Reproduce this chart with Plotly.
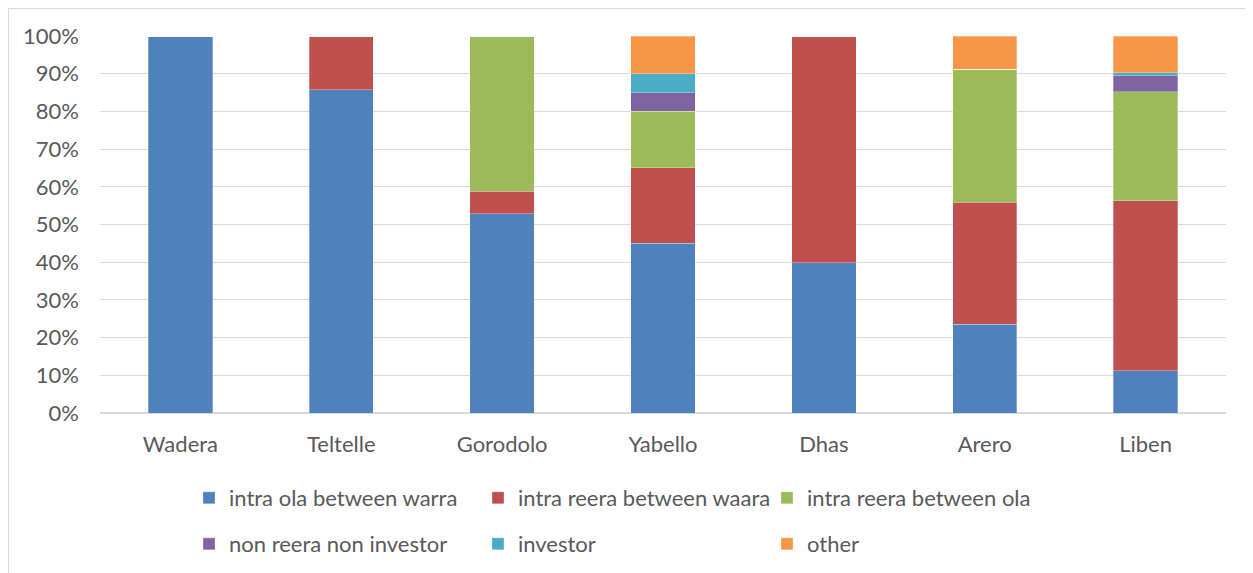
import plotly.graph_objects as go

categories = ["Wadera", "Teltelle", "Gorodolo", "Yabello", "Dhas", "Arero", "Liben"]

intra_ola_warra = [100.0, 85.7, 52.9, 45.0, 39.8, 23.5, 11.2]
intra_reera_waara = [0.0, 14.3, 5.9, 20.0, 60.2, 32.4, 45.1]
intra_reera_ola = [0.0, 0.0, 41.2, 15.0, 0.0, 35.3, 28.9]
non_reera_non_investor = [0.0, 0.0, 0.0, 5.0, 0.0, 0.0, 4.3]
investor = [0.0, 0.0, 0.0, 5.0, 0.0, 0.0, 0.7]
other = [0.0, 0.0, 0.0, 10.0, 0.0, 8.8, 9.8]

# first three go in the top legend row, the rest in the second
series = [
    ("intra ola between warra", intra_ola_warra, "#4F81BD", "legend"),
    ("intra reera between waara", intra_reera_waara, "#C0504D", "legend"),
    ("intra reera between ola", intra_reera_ola, "#9BBB59", "legend"),
    ("non reera non investor", non_reera_non_investor, "#8064A2", "legend2"),
    ("investor", investor, "#4BACC6", "legend2"),
    ("other", other, "#F79646", "legend2"),
]

# page body has an 8px margin, so the figure is 8px smaller and shifted
OFF = 8
W, H = 1253 - OFF, 573 - OFF
L, R, T, B = 100 - OFF, 27, 36 - OFF, 160
FS = 22

fig = go.Figure()
for name, vals, color, leg in series:
    fig.add_trace(
        go.Bar(
            x=categories,
            y=[v / 100 for v in vals],
            name=name,
            legend=leg,
            marker={"color": color, "line": {"color": "rgba(255,255,255,0.5)", "width": 0.6}},
        )
    )

pw = W - L - R
ph = H - T - B

# chart-area frame: only the left and top edges show in the reference crop
bx0 = (0.5 - L) / pw
by1 = 1 + (T - 0.5) / ph
for x0, y0, x1, y1 in [(bx0, -2, bx0, by1), (bx0, by1, 2, by1)]:
    fig.add_shape(
        type="line",
        xref="paper",
        yref="paper",
        x0=x0,
        y0=y0,
        x1=x1,
        y1=y1,
        line={"color": "#D9D9D9", "width": 1},
        layer="below",
    )

legend_common = {
    "orientation": "h",
    "xanchor": "left",
    "yanchor": "middle",
    "entrywidth": 244,
    "traceorder": "normal",
    "font": {"size": FS},
    "itemwidth": 30,
    "bgcolor": "rgba(0,0,0,0)",
}
x_leg = (181 - L) / pw
bottom_px = T + ph

fig.update_layout(
    width=W,
    height=H,
    barmode="stack",
    bargap=0.6,
    paper_bgcolor="white",
    plot_bgcolor="white",
    font={"family": "Lato, sans-serif", "color": "#595959", "size": FS},
    margin={"l": L, "r": R, "t": T, "b": B, "autoexpand": False},
    xaxis={"showline": False, "ticks": "", "ticklabelstandoff": 16, "automargin": False},
    yaxis={
        "range": [0, 1],
        "dtick": 0.1,
        "tickformat": ".0%",
        "gridcolor": "#D9D9D9",
        "gridwidth": 1,
        "zeroline": True,
        "zerolinecolor": "#D9D9D9",
        "ticklabelstandoff": 20,
        "automargin": False,
    },
    legend={**legend_common, "x": x_leg, "y": (bottom_px - (498 - OFF)) / ph},
    legend2={**legend_common, "x": x_leg, "y": (bottom_px - (544 - OFF)) / ph},
    showlegend=True,
)

fig.write_html("out.html")
